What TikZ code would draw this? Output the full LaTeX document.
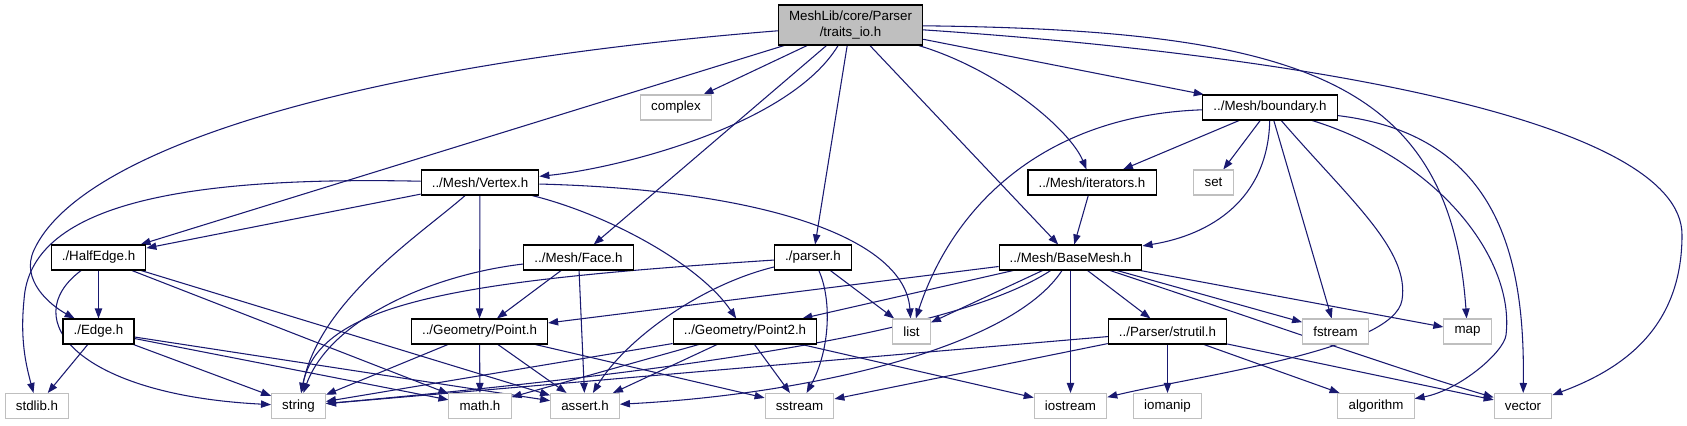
\documentclass[tikz,border=0pt]{standalone}
\usepackage{fontspec}
\setmainfont{Liberation Sans}
\usetikzlibrary{arrows.meta}
\definecolor{edgeblue}{HTML}{191970}
\definecolor{sysgrey}{HTML}{BFBFBF}
\definecolor{rootgrey}{HTML}{BFBFBF}
\pgfdeclarelayer{bg}
\pgfsetlayers{bg,main}

\begin{document}
\begin{tikzpicture}[x=0.75pt, y=-0.75pt,
  >={Stealth[length=7.5pt, width=5.5pt, inset=0pt]},
  hdr/.style={draw=black, line width=0.8pt, fill=white, font=\fontsize{10}{12}\selectfont,
    inner xsep=8pt, inner ysep=0pt, minimum height=18.75pt},
  sys/.style={hdr, draw=sysgrey},
  root/.style={hdr, fill=rootgrey, align=center, minimum height=30pt},
  dep/.style={->, edgeblue, line width=0.8pt}]

% Page size (pixels of the reference, y downwards)
\useasboundingbox (0,0) rectangle (1687,425);

% Root file
\node[root] (traits) at (850.5,25) {MeshLib/core/Parser\\/traits\_io.h};

% Second and third rank
\node[sys] (complex)   at (676,107.5)   {complex};
\node[hdr] (boundary)  at (1270,107.5)  {../Mesh/boundary.h};
\node[hdr] (vertex)    at (480,182.5)   {../Mesh/Vertex.h};
\node[hdr] (iterators) at (1092,182.5)  {../Mesh/iterators.h};
\node[sys] (set)       at (1213.5,182.5) {set};

% Fourth rank
\node[hdr] (halfedge) at (98.5,257.5)   {./HalfEdge.h};
\node[hdr] (face)     at (578.5,257.5)  {../Mesh/Face.h};
\node[hdr] (parser)   at (813,257.5)    {./parser.h};
\node[hdr] (basemesh) at (1070.5,257.5) {../Mesh/BaseMesh.h};

% Fifth rank
\node[hdr] (edge)     at (98.5,331.5)   {./Edge.h};
\node[hdr] (point)    at (479.5,331.5)  {../Geometry/Point.h};
\node[hdr] (pointtwo) at (745,331.5)    {../Geometry/Point2.h};
\node[sys] (list)     at (911.5,331.5)  {list};
\node[hdr] (strutil)  at (1167.5,331.5) {../Parser/strutil.h};
\node[sys] (fstream)  at (1335.5,331.5) {fstream};
\node[sys] (map)      at (1467.5,331.5) {map};

% System headers
\node[sys] (stdlib)    at (37,406)     {stdlib.h};
\node[sys] (string)    at (298.5,406)  {string};
\node[sys] (math)      at (480,406)    {math.h};
\node[sys] (assert)    at (585,406)    {assert.h};
\node[sys] (sstream)   at (799.5,406)  {sstream};
\node[sys] (iostream)  at (1070.5,406) {iostream};
\node[sys] (iomanip)   at (1167.5,406) {iomanip};
\node[sys] (algorithm) at (1376,406)   {algorithm};
\node[sys] (vector)    at (1523,406)   {vector};

% Bends of the long curves
\coordinate (vecturn)  at (1682,235);
\coordinate (ioturn)   at (1402,300);
\coordinate (algturn)  at (1506,335);
\coordinate (stdturn)  at (24,300);
\coordinate (edgeturn) at (34,250);

\begin{pgfonlayer}{bg}
% traits_io.h
\draw[dep] (traits) .. controls (350,65) and (80,150) .. (edgeturn)
  .. controls (20,280) and (50,305) .. (edge);
\draw[dep] (traits) -- (halfedge);
\draw[dep] (traits) -- (complex);
\draw[dep] (traits) .. controls (790,125) and (620,168) .. (vertex);
\draw[dep] (traits) -- (face);
\draw[dep] (traits) -- (parser);
\draw[dep] (traits) -- (basemesh);
\draw[dep] (traits) .. controls (1000,70) and (1070,130) .. (iterators);
\draw[dep] (traits) -- (boundary);
\draw[dep] (traits) .. controls (1300,30) and (1450,80) .. (map);
\draw[dep] (traits) .. controls (1300,55) and (1682,120) .. (vecturn)
  .. controls (1682,330) and (1620,370) .. (vector);

% boundary.h
\draw[dep] (boundary) -- (iterators);
\draw[dep] (boundary) -- (set);
\draw[dep] (boundary) .. controls (1268,200) and (1210,235) .. (basemesh);
\draw[dep] (boundary) .. controls (1050,115) and (955,200) .. (list);
\draw[dep] (boundary) -- (fstream);
\draw[dep] (boundary) .. controls (1350,200) and (1410,250) .. (ioturn)
  .. controls (1394,350) and (1200,375) .. (iostream);
\draw[dep] (boundary) .. controls (1440,160) and (1515,260) .. (algturn)
  .. controls (1504,352) and (1460,390) .. (algorithm);
\draw[dep] (boundary) .. controls (1500,135) and (1525,260) .. (vector);

% iterators.h
\draw[dep] (iterators) -- (basemesh);

% Vertex.h
\draw[dep] (vertex) .. controls (180,176) and (30,205) .. (stdturn)
  .. controls (20,340) and (26,365) .. (stdlib);
\draw[dep] (vertex) -- (halfedge);
\draw[dep] (vertex) .. controls (420,235) and (320,300) .. (string);
\draw[dep] (vertex) -- (point);
\draw[dep] (vertex) .. controls (610,215) and (700,265) .. (pointtwo);
\draw[dep] (vertex) .. controls (770,190) and (905,240) .. (list);

% HalfEdge.h and Edge.h
\draw[dep] (halfedge) -- (edge);
\draw[dep] (halfedge) .. controls (15,320) and (80,395) .. (string);
\draw[dep] (halfedge) -- (math);
\draw[dep] (halfedge) -- (assert);
\draw[dep] (edge) -- (stdlib);
\draw[dep] (edge) -- (string);
\draw[dep] (edge) -- (math);
\draw[dep] (edge) -- (assert);

% Face.h and parser.h
\draw[dep] (face) .. controls (430,275) and (330,320) .. (string);
\draw[dep] (face) -- (point);
\draw[dep] (face) -- (assert);
\draw[dep] (parser) .. controls (470,280) and (320,300) .. (string);
\draw[dep] (parser) .. controls (700,285) and (625,340) .. (assert);
\draw[dep] (parser) .. controls (832,300) and (830,350) .. (sstream);
\draw[dep] (parser) -- (list);

% BaseMesh.h
\draw[dep] (basemesh) -- (point);
\draw[dep] (basemesh) -- (pointtwo);
\draw[dep] (basemesh) -- (list);
\draw[dep] (basemesh) .. controls (960,330) and (700,370) .. (string);
\draw[dep] (basemesh) .. controls (1010,350) and (800,395) .. (assert);
\draw[dep] (basemesh) -- (iostream);
\draw[dep] (basemesh) -- (strutil);
\draw[dep] (basemesh) -- (fstream);
\draw[dep] (basemesh) -- (map);
\draw[dep] (basemesh) .. controls (1230,310) and (1400,370) .. (vector);

% Geometry
\draw[dep] (point) -- (string);
\draw[dep] (point) -- (math);
\draw[dep] (point) -- (assert);
\draw[dep] (point) -- (sstream);
\draw[dep] (pointtwo) -- (string);
\draw[dep] (pointtwo) -- (math);
\draw[dep] (pointtwo) -- (assert);
\draw[dep] (pointtwo) -- (sstream);
\draw[dep] (pointtwo) -- (iostream);

% strutil.h
\draw[dep] (strutil) -- (string);
\draw[dep] (strutil) -- (sstream);
\draw[dep] (strutil) -- (iomanip);
\draw[dep] (strutil) -- (algorithm);
\draw[dep] (strutil) -- (vector);
\end{pgfonlayer}

\end{tikzpicture}
\end{document}
